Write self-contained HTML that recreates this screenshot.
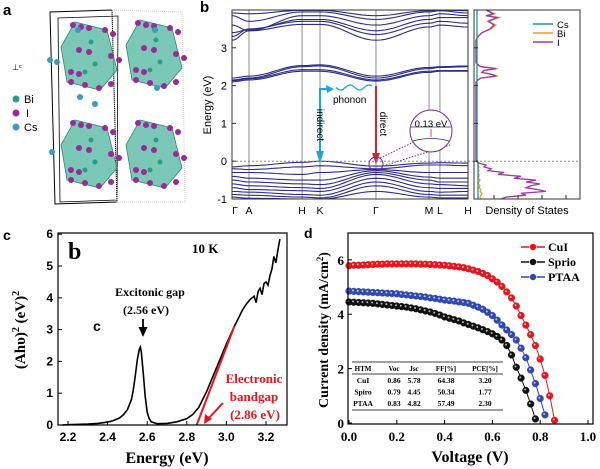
<!DOCTYPE html>
<html><head><meta charset="utf-8"><style>
html,body{margin:0;padding:0;background:#fff;width:600px;height:469px;overflow:hidden}
svg text{font-family:"Liberation Sans",sans-serif}
.sr{font-family:"Liberation Serif",serif;font-weight:bold}
</style></head><body>
<svg id="fig" width="600" height="469" viewBox="0 0 600 469" xmlns="http://www.w3.org/2000/svg">
<g id="pa">
<text x="3" y="15" font-size="15" font-weight="bold">a</text>
<polygon points="50,12 112,10 117,202 55,204" fill="none" stroke="#000" stroke-width="1"/>
<polygon points="58,18 118,16 117,200 60,202" fill="none" stroke="#000" stroke-width="0.8"/>
<polygon points="112,10 182,12 185,202 117,202" fill="none" stroke="#d8d0c0" stroke-dasharray="1,1"/>
<g id="polys"></g>
<text x="12" y="70" font-size="8">⊥ᶜ</text>
<circle cx="16" cy="99" r="3.5" fill="#2a9d87"/><text x="24" y="103" font-size="11">Bi</text>
<circle cx="16" cy="113" r="3.5" fill="#9a2a9a"/><text x="26" y="117" font-size="11">I</text>
<circle cx="16" cy="127" r="3.5" fill="#3b9cc0"/><text x="24" y="131" font-size="11">Cs</text>
</g>
<g id="pb">
<text x="200" y="12" font-size="15" font-weight="bold">b</text>
<text transform="translate(211,105) rotate(-90)" font-size="11" text-anchor="middle">Energy (eV)</text>
<g id="bandVL"></g>
<g id="bands"></g>
<g id="dos"></g>
<rect x="232" y="10" width="236" height="189" fill="none" stroke="#333" stroke-width="1"/>
<rect x="474" y="10" width="106" height="189" fill="none" stroke="#333" stroke-width="1"/>
<g id="bandTicks"></g>
<text x="527" y="214" font-size="11" text-anchor="middle">Density of States</text>
<line x1="533" y1="24" x2="553" y2="24" stroke="#1a9a94" stroke-width="1.5"/><text x="557" y="28" font-size="9.5">Cs</text>
<line x1="533" y1="33" x2="553" y2="33" stroke="#e3a13a" stroke-width="1.5"/><text x="557" y="37" font-size="9.5">Bi</text>
<line x1="533" y1="42" x2="553" y2="42" stroke="#9a3aa8" stroke-width="1.5"/><text x="557" y="46" font-size="9.5">I</text>
<g>
<polyline points="320,161 320,89 330,89" fill="none" stroke="#1fa3dc" stroke-width="2"/>
<polygon points="320,163 316,151 324,151" fill="#1fa3dc"/><polygon points="334,89 326,85 327,93" fill="#1fa3dc"/>
<path id="wave" fill="none" stroke="#1fa3dc" stroke-width="1.3"/>
<text x="333" y="103" font-size="10">phonon</text>
<text transform="translate(317,125) rotate(90)" font-size="10" text-anchor="middle">indirect</text>
<line x1="376" y1="86" x2="376" y2="157" stroke="#e0202a" stroke-width="2"/>
<polygon points="376,164 372,153 380,153" fill="#e0202a"/>
<text transform="translate(380,124) rotate(90)" font-size="10" text-anchor="middle">direct</text>
<circle cx="376" cy="164" r="7" fill="none" stroke="#7a2a8a" stroke-width="1"/>
<line x1="380" y1="158" x2="418" y2="140" stroke="#7a2a8a" stroke-dasharray="1.5,1.5"/><line x1="383" y1="166" x2="450" y2="145" stroke="#7a2a8a" stroke-dasharray="1.5,1.5"/>
<circle cx="431" cy="131" r="21" fill="#fff" stroke="#7a2a8a" stroke-width="1"/>
<line x1="411" y1="127" x2="451" y2="127" stroke="#2d2d86" stroke-width="0.8"/>
<path d="M413,141 Q431,136 449,141" fill="none" stroke="#2d2d86" stroke-width="0.8"/>
<line x1="431" y1="129" x2="431" y2="137" stroke="#e0202a" stroke-width="0.8"/>
<text x="431" y="127" font-size="9.5" text-anchor="middle">0.13 eV</text>
</g>
</g>
<g id="pc">
<text x="3" y="240" font-size="14" font-weight="bold">c</text>
<g id="cAxes"></g>
<path id="cCurve" fill="none" stroke="#000" stroke-width="1.6"/>
<line id="cFit" stroke="#e8141c" stroke-width="2"/>
<rect x="58" y="233" width="229" height="192" fill="none" stroke="#000" stroke-width="1.2"/>
<text x="68" y="259" font-size="24" class="sr">b</text>
<text x="192" y="253" font-size="13" class="sr">10 K</text>
<text x="93" y="331" font-size="14" font-weight="bold">c</text>
<text x="150" y="296" font-size="12" class="sr" text-anchor="middle">Excitonic gap</text>
<text x="146" y="314" font-size="12" class="sr" text-anchor="middle">(2.56 eV)</text>
<line x1="143" y1="319" x2="143" y2="329" stroke="#000" stroke-width="1.8"/><polygon points="143,337 138.5,327 147.5,327" fill="#000"/>
<text x="254" y="383" font-size="13" class="sr" fill="#e8141c" text-anchor="middle">Electronic</text>
<text x="254" y="401" font-size="13" class="sr" fill="#e8141c" text-anchor="middle">bandgap</text>
<text x="255" y="419" font-size="13" class="sr" fill="#e8141c" text-anchor="middle">(2.86 eV)</text>
<line x1="223" y1="403" x2="208" y2="419" stroke="#e8141c" stroke-width="2"/><polygon points="204,424 205,414 212,419" fill="#e8141c"/>
<text x="167" y="463" font-size="16" class="sr" text-anchor="middle">Energy (eV)</text>
<text transform="translate(25,330) rotate(-90)" font-size="15" class="sr" text-anchor="middle">(Ahυ)<tspan dy="-6" font-size="10">2</tspan><tspan dy="6"> (eV)</tspan><tspan dy="-6" font-size="10">2</tspan></text>
</g>
<g id="pd">
<text x="304" y="238" font-size="14" font-weight="bold">d</text>
<g id="dAxes"></g>
<g id="table"></g>
<g id="dSeries"></g>
<rect x="348" y="233" width="245" height="191" fill="none" stroke="#000" stroke-width="1.2"/>
<g id="dLegend"></g>
<text x="470" y="462" font-size="16" class="sr" text-anchor="middle">Voltage (V)</text>
<text transform="translate(328,330) rotate(-90)" font-size="14" class="sr" text-anchor="middle">Current density (mA/cm<tspan dy="-5" font-size="9">2</tspan><tspan dy="5">)</tspan></text>
</g>
</svg>
<script>
const NS='http://www.w3.org/2000/svg';
function mk(t,a,p){const e=document.createElementNS(NS,t);for(const k in a)e.setAttribute(k,a[k]);p.appendChild(e);return e;}
// ---------- panel a decorative ----------
const polyCenters=[[85,52],[150,50],[85,150],[150,150]];
const pg=document.getElementById('polys');
polyCenters.forEach(c=>{
 const p=mk('polygon',{points:`${c[0]-10},${c[1]-30} ${c[0]+22},${c[1]-22} ${c[0]+32},${c[1]+18} ${c[0]+15},${c[1]+38} ${c[0]-18},${c[1]+30} ${c[0]-24},${c[1]-5}`,fill:'#4fb59f','fill-opacity':'0.75',stroke:'#2a8a78','stroke-width':'0.8'},pg);
 
 [[-12,-27],[-4,-25],[4,-24],[20,-22],[28,-18],[-6,-2],[4,0],[26,4],[34,8],[-14,20],[-6,22],[-14,30],[0,33],[14,36],[26,32]].forEach(o=>{
  const s=mk('circle',{cx:c[0]+o[0],cy:c[1]+o[1],r:3,fill:'#9a2a9a'},pg);
  });
 [[6,-10],[10,12],[0,20]].forEach(o=>{const s=mk('circle',{cx:c[0]+o[0],cy:c[1]+o[1],r:2.5,fill:'#2a9d87'},pg);
  });
});
[[50,60],[57,62],[78,30],[80,97],[52,152],[95,104],[155,30],[157,88]].forEach(o=>{const s=mk('circle',{cx:o[0],cy:o[1],r:3,fill:'#3b9cc0'},pg);
 });

// ---------- panel b data ----------
const kLabels=['Γ','A','H','K','Γ','M','L','H'];
const kPos=[0,0.072,0.297,0.373,0.61,0.835,0.881,1.0];
const eTicks=[3,2,1,0,-1];
const bandsData=[
[2.1,2.15,2.38,2.38,2.12,2.35,2.38,2.38],[2.13,2.18,2.42,2.42,2.15,2.38,2.4,2.4],
[2.2,2.25,2.53,2.55,2.25,2.48,2.5,2.52],[2.15,2.2,2.5,2.52,2.2,2.45,2.48,2.5],
[3.2,3.45,3.62,3.62,3.2,3.55,3.6,3.55],[3.3,3.5,3.7,3.7,3.35,3.65,3.7,3.65],
[3.4,3.48,3.75,3.75,3.45,3.75,3.8,3.8],[3.6,3.45,3.85,3.85,3.6,3.85,3.9,3.85],
[3.85,3.7,3.95,3.95,3.75,3.95,3.98,3.92],[3.92,3.9,3.99,3.99,3.85,3.98,4.0,3.98],
[-0.15,-0.12,-0.03,0,-0.13,-0.05,-0.04,-0.05],[-0.2,-0.22,-0.15,-0.12,-0.2,-0.1,-0.1,-0.12],
[-0.3,-0.3,-0.35,-0.3,-0.22,-0.3,-0.3,-0.3],[-0.4,-0.45,-0.5,-0.5,-0.25,-0.42,-0.45,-0.45],
[-0.5,-0.55,-0.6,-0.62,-0.3,-0.5,-0.55,-0.55],[-0.6,-0.65,-0.7,-0.72,-0.35,-0.6,-0.62,-0.65],
[-0.7,-0.75,-0.78,-0.8,-0.45,-0.7,-0.72,-0.72],[-0.8,-0.82,-0.88,-0.9,-0.55,-0.8,-0.82,-0.8],
[-0.88,-0.9,-0.95,-0.97,-0.65,-0.88,-0.9,-0.9],[-0.95,-0.98,-1.0,-1.0,-0.8,-0.95,-0.97,-0.97]];
const dosE=[4.0,3.9,3.85,3.8,3.7,3.6,3.5,3.4,3.3,3.2,2.6,2.55,2.5,2.45,2.4,2.35,2.3,2.25,2.2,2.15,2.1,0.05,0,-0.05,-0.1,-0.15,-0.2,-0.25,-0.3,-0.35,-0.4,-0.45,-0.5,-0.55,-0.6,-0.65,-0.7,-0.75,-0.8,-0.85,-0.9,-0.95,-1.0];
const dosI=[0.1,0.17,0.1,0.21,0.12,0.18,0.14,0.06,0.02,0,0,0.02,0.05,0.2,0.08,0.06,0.15,0.2,0.05,0.02,0,0,0,0.03,0.1,0.08,0.15,0.12,0.28,0.22,0.45,0.38,0.6,0.5,0.64,0.55,0.5,0.62,0.7,0.45,0.5,0.3,0.25];
const dosBi=[0.11,0.19,0.12,0.23,0.13,0.2,0.15,0.06,0.02,0,0,0.02,0.05,0.22,0.08,0.06,0.16,0.22,0.05,0.02,0,0,0.02,0.03,0.02,0.03,0.02,0.03,0.02,0.03,0.03,0.02,0.04,0.03,0.02,0.04,0.03,0.05,0.04,0.06,0.05,0.04,0.05];
const dosCs=[0.01,0.01,0.01,0.01,0.01,0.01,0.01,0.01,0.01,0.01,0.01,0.01,0.01,0.01,0.01,0.01,0.01,0.01,0.01,0.01,0.01,0.01,0.01,0.02,0.02,0.02,0.02,0.02,0.02,0.02,0.02,0.02,0.02,0.02,0.02,0.02,0.02,0.02,0.02,0.02,0.02,0.02,0.02];
const bx0=232,bx1=468,by0=10,by1=199,eMin=-1,eMax=4;
const kx=k=>bx0+k*(bx1-bx0);
const ey=e=>by1-(e-eMin)/(eMax-eMin)*(by1-by0);
const vl=document.getElementById('bandVL'),bt=document.getElementById('bandTicks');
kPos.forEach((k,i)=>{
 if(i>0&&i<kPos.length-1){const l=mk('line',{x1:kx(k),x2:kx(k),y1:by0,y2:by1,stroke:'#a8a8a8','stroke-width':1.3},vl);
  }
 const t=mk('text',{x:kx(k)+(i==0?3:0),y:214,'font-size':10.5,'text-anchor':'middle','font-family':'Liberation Serif,serif'},bt);t.textContent=kLabels[i];
 });
eTicks.forEach(e=>{const t=mk('text',{x:227,y:ey(e)+4,'font-size':11,'text-anchor':'end'},bt);t.textContent=e;
 
 mk('line',{x1:bx0,x2:bx0+4,y1:ey(e),y2:ey(e),stroke:'#333'},bt);mk('line',{x1:474,x2:478,y1:ey(e),y2:ey(e),stroke:'#333'},bt);});
[494,518,542,566].forEach(x=>mk('line',{x1:x,x2:x,y1:by1,y2:by1-4,stroke:'#333'},bt));
const bg=document.getElementById('bands');
bandsData.forEach(b=>{let d='';
 for(let i=0;i<kPos.length-1;i++){for(let s=0;s<=12;s++){const t=s/12,w=(1-Math.cos(Math.PI*t))/2;
  const e=Math.max(eMin,Math.min(eMax,b[i]+(b[i+1]-b[i])*w));const x=kx(kPos[i]+(kPos[i+1]-kPos[i])*t);
  d+=(d?'L':'M')+x.toFixed(1)+','+ey(e).toFixed(1);}}
 const p=mk('path',{d:d,fill:'none',stroke:'#2d2d86','stroke-width':1.1},bg);
 });
const fl=mk('line',{x1:bx0,x2:580,y1:ey(0),y2:ey(0),stroke:'#888','stroke-dasharray':'2,2'},bg);

const dg=document.getElementById('dos');
const dx=v=>476+v*100;
[[dosBi,'#e3a13a','dos-bi'],[dosI,'#9a3aa8','dos-i'],[dosCs,'#1a9a94','dos-cs']].forEach(s=>{
 let d='';s[0].forEach((v,i)=>{d+=(i?'L':'M')+dx(v).toFixed(1)+','+ey(dosE[i]).toFixed(1);});
 const p=mk('path',{d:d,fill:'none',stroke:s[1],'stroke-width':1.3},dg);
 });
(function(){let d='';for(let x=336;x<=372;x++){const y=ey(1.95)+2.5*Math.sin((x-336)/3);d+=(d?'L':'M')+x+','+y.toFixed(1);}document.getElementById('wave').setAttribute('d',d);})();

// ---------- panel c data ----------
const cE=[2.17,2.2,2.3,2.35,2.4,2.43,2.46,2.48,2.5,2.52,2.53,2.54,2.55,2.56,2.565,2.57,2.58,2.59,2.6,2.61,2.62,2.65,2.7,2.75,2.8,2.83,2.86,2.9,2.95,3.0,3.04,3.06,3.08,3.1,3.12,3.14,3.15,3.16,3.17,3.18,3.19,3.2,3.21,3.22,3.23,3.24,3.25,3.26,3.27];
const cA=[0,0.01,0.03,0.05,0.09,0.14,0.22,0.32,0.48,0.8,1.1,1.55,2.05,2.38,2.45,2.3,1.65,0.9,0.4,0.2,0.1,0.04,0.05,0.1,0.2,0.33,0.55,1.05,1.8,2.55,3.1,3.35,3.6,3.8,3.95,4.05,3.85,4.2,4.3,4.1,4.45,4.5,4.4,4.7,4.9,5.3,5.1,5.5,5.85];
const cXTicks=[2.2,2.4,2.6,2.8,3.0,3.2];
const cXTickLabels=['2.2','2.4','2.6','2.8','3.0','3.2'];
const cYTicks=[0,1,2,3,4,5,6];
const cFitPts=[[2.85,0],[3.04,3.1]];
const cx=e=>68+(e-2.2)*198, cy=v=>425-v*31.8;
const ca=document.getElementById('cAxes');
cXTicks.forEach((t,i)=>{mk('line',{x1:cx(t),x2:cx(t),y1:425,y2:421,stroke:'#000'},ca);
 const x=mk('text',{x:cx(t),y:441,'font-size':12,'text-anchor':'middle','font-weight':'bold'},ca);x.textContent=cXTickLabels[i];
 });
cYTicks.forEach(t=>{mk('line',{x1:58,x2:62,y1:cy(t),y2:cy(t),stroke:'#000'},ca);
 const x=mk('text',{x:53,y:cy(t)+4,'font-size':12,'text-anchor':'end','font-weight':'bold'},ca);x.textContent=t;
 });
document.getElementById('cCurve').setAttribute('d',cE.map((e,i)=>(i?'L':'M')+cx(e).toFixed(1)+','+cy(cA[i]).toFixed(1)).join(''));
const cf=document.getElementById('cFit');cf.setAttribute('x1',cx(cFitPts[0][0]));cf.setAttribute('y1',cy(cFitPts[0][1]));cf.setAttribute('x2',cx(cFitPts[1][0]));cf.setAttribute('y2',cy(cFitPts[1][1]));

// ---------- panel d data ----------
const dV=[0,0.02,0.04,0.06,0.08,0.1,0.12,0.14,0.16,0.18,0.2,0.22,0.24,0.26,0.28,0.3,0.32,0.34,0.36,0.38,0.4,0.42,0.44,0.46,0.48,0.5,0.52,0.54,0.56,0.58,0.6,0.62,0.64,0.66,0.68,0.7,0.72,0.74,0.76,0.78,0.8,0.82,0.84,0.86];
const jCuI=[5.78,5.8,5.8,5.81,5.82,5.83,5.84,5.84,5.85,5.85,5.85,5.85,5.85,5.85,5.85,5.84,5.84,5.83,5.82,5.81,5.8,5.78,5.76,5.74,5.71,5.67,5.62,5.57,5.5,5.42,5.3,5.18,5.02,4.82,4.6,4.3,3.95,3.6,3.25,2.85,2.35,1.75,1.0,0.1];
const jSprio=[4.45,4.44,4.43,4.42,4.41,4.4,4.38,4.36,4.34,4.32,4.3,4.28,4.26,4.23,4.2,4.16,4.12,4.08,4.03,3.97,3.9,3.85,3.8,3.75,3.68,3.62,3.56,3.5,3.43,3.36,3.28,3.18,3.05,2.85,2.5,2.05,1.65,1.2,0.7,0.15,null,null,null,null];
const jPTAA=[4.85,4.84,4.83,4.82,4.81,4.8,4.79,4.78,4.77,4.76,4.75,4.73,4.71,4.69,4.67,4.65,4.63,4.6,4.58,4.55,4.52,4.5,4.48,4.45,4.43,4.4,4.33,4.26,4.18,4.07,3.95,3.78,3.6,3.42,3.25,3.05,2.75,2.4,1.95,1.45,0.9,0.3,null,null];
const dXTicks=[0,0.2,0.4,0.6,0.8,1.0];
const dXTickLabels=['0.0','0.2','0.4','0.6','0.8','1.0'];
const dYTicks=[0,2,4,6];
const dSeriesNames=['CuI','Sprio','PTAA'];
const tableHeader=['HTM','Voc','Jsc','FF[%]','PCE[%]'];
const tableRows=[['CuI','0.86','5.78','64.38','3.20'],['Spiro','0.79','4.45','50.34','1.77'],['PTAA','0.83','4.82','57.49','2.30']];
const vx=v=>349+v*239, jy=j=>423-j*27.2;
const da=document.getElementById('dAxes');
dXTicks.forEach((t,i)=>{mk('line',{x1:vx(t),x2:vx(t),y1:424,y2:420,stroke:'#000'},da);
 const x=mk('text',{x:vx(t),y:441,'font-size':13,'text-anchor':'middle',class:'sr'},da);x.textContent=dXTickLabels[i];
 });
dYTicks.forEach(t=>{mk('line',{x1:348,x2:352,y1:jy(t),y2:jy(t),stroke:'#000'},da);
 const x=mk('text',{x:344,y:jy(t)+5,'font-size':13,'text-anchor':'end',class:'sr'},da);x.textContent=t;
 });
const tb=document.getElementById('table');
const colX=[363,394,414,446,485];
[362,374,410].forEach(y=>mk('line',{x1:352,x2:503,y1:y,y2:y,stroke:'#000','stroke-width':0.8},tb));
tableHeader.forEach((h,i)=>{const t=mk('text',{x:colX[i],y:371,'font-size':7,'text-anchor':'middle',class:'sr'},tb);t.textContent=h;
 });
tableRows.forEach((r,ri)=>r.forEach((c,i)=>{const t=mk('text',{x:colX[i],y:383+ri*11.5,'font-size':7.5,'text-anchor':'middle',class:'sr'},tb);t.textContent=c;
 }));
const ds=document.getElementById('dSeries');
const sCols=['#e8141c','#111111','#3048b0'];
[jSprio,jPTAA,jCuI].forEach((arr,si)=>{const col=[sCols[1],sCols[2],sCols[0]][si];
 const g=mk('g',{},ds);
 let d='';arr.forEach((j,i)=>{if(j===null)return;d+=(d?'L':'M')+vx(dV[i]).toFixed(1)+','+jy(j).toFixed(1);});
 mk('path',{d:d,fill:'none',stroke:col,'stroke-width':1},g);
 arr.forEach((j,i)=>{if(j===null)return;const c=mk('circle',{cx:vx(dV[i]),cy:jy(j),r:3.4,fill:col,stroke:col,'stroke-width':0.4},g);
  
  const h=mk('circle',{cx:vx(dV[i])-0.8,cy:jy(j)-0.8,r:1,fill:'#fff','fill-opacity':0.7},g);
  });});
const dl=document.getElementById('dLegend');
dSeriesNames.forEach((n,i)=>{const y=247+i*15;
 mk('line',{x1:521,x2:545,y1:y,y2:y,stroke:sCols[i],'stroke-width':1.5},dl);
 const c=mk('circle',{cx:533,cy:y,r:3.5,fill:sCols[i],stroke:'#fff','stroke-width':0.6},dl);
 
 const t=mk('text',{x:548,y:y+4,'font-size':12,class:'sr'},dl);t.textContent=n;
 });
</script>
</body></html>
